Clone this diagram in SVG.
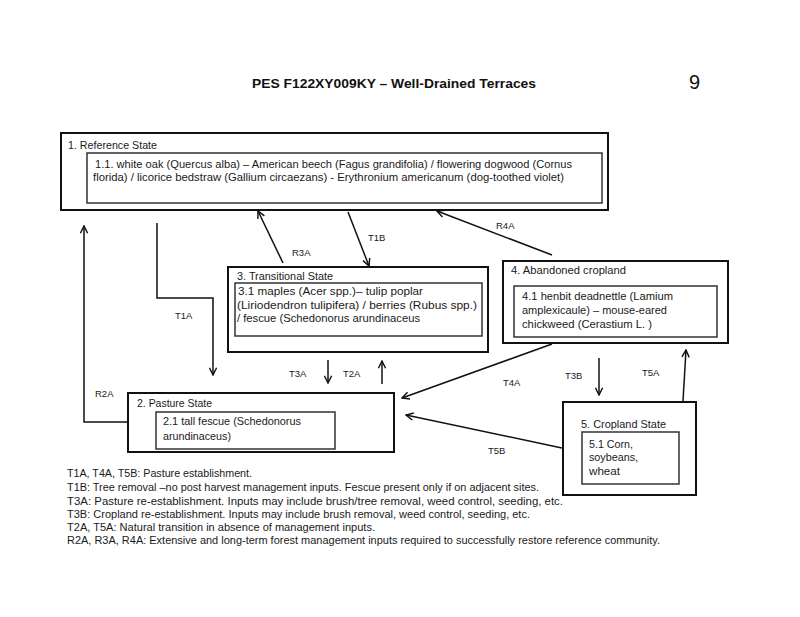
<svg xmlns="http://www.w3.org/2000/svg" width="800" height="617" viewBox="0 0 800 617">
<style>
text{font-family:"Liberation Sans",Arial,sans-serif;fill:#1a1a1a;font-size:10.5px}
.outer{fill:none;stroke:#111;stroke-width:2}
.inner{fill:none;stroke:#333;stroke-width:1.5}
.conn{fill:none;stroke:#111;stroke-width:1.5;marker-end:url(#arr)}
.lbl{font-size:9.5px}
.leg{font-size:10px}
.title{font-weight:bold;font-size:12.5px;fill:#111}
</style>
<defs>
<marker id="arr" viewBox="0 0 10 10" refX="9" refY="5" markerWidth="6" markerHeight="6" orient="auto" markerUnits="strokeWidth">
<path d="M1,1 L9,5 L1,9" fill="none" stroke="#111" stroke-width="1.6"/>
</marker>
</defs>
<rect width="800" height="617" fill="#fff"/>
<text class="title" x="252" y="88" textLength="284" lengthAdjust="spacingAndGlyphs">PES F122XY009KY –  Well-Drained Terraces</text>
<text x="689" y="89" style="font-size:20px;fill:#111">9</text>

<g id="node1">
<rect class="outer" x="61" y="133" width="547" height="77"/>
<rect class="inner" x="87" y="153" width="515" height="50"/>
<text x="68" y="149" textLength="89" lengthAdjust="spacingAndGlyphs">1. Reference State</text>
<text x="95" y="168" textLength="477" lengthAdjust="spacingAndGlyphs">1.1.  white oak (Quercus alba) – American beech (Fagus grandifolia) / flowering dogwood (Cornus</text>
<text x="93" y="181" textLength="471" lengthAdjust="spacingAndGlyphs">florida) /  licorice bedstraw (Gallium circaezans) - Erythronium americanum (dog-toothed violet)</text>
</g>

<g id="node3">
<rect class="outer" x="228" y="267" width="260" height="85"/>
<rect class="inner" x="235" y="283" width="247" height="53"/>
<text x="237" y="280" textLength="96" lengthAdjust="spacingAndGlyphs">3. Transitional State</text>
<text x="238" y="295" textLength="185" lengthAdjust="spacingAndGlyphs">3.1 maples (Acer spp.)– tulip poplar</text>
<text x="237" y="309" textLength="240" lengthAdjust="spacingAndGlyphs">(Liriodendron tulipifera) / berries (Rubus spp.)</text>
<text x="237" y="322" textLength="183" lengthAdjust="spacingAndGlyphs">/ fescue (Schedonorus arundinaceus</text>
</g>

<g id="node4">
<rect class="outer" x="503" y="261" width="225" height="82"/>
<rect class="inner" x="514" y="286" width="203" height="51"/>
<text x="511" y="274" textLength="115" lengthAdjust="spacingAndGlyphs">4. Abandoned cropland</text>
<text x="522" y="300" textLength="151" lengthAdjust="spacingAndGlyphs">4.1 henbit deadnettle (Lamium</text>
<text x="522" y="314" textLength="145" lengthAdjust="spacingAndGlyphs">amplexicaule) – mouse-eared</text>
<text x="522" y="328" textLength="130" lengthAdjust="spacingAndGlyphs">chickweed (Cerastium L. )</text>
</g>

<g id="node2">
<rect class="outer" x="128" y="393" width="266" height="59"/>
<rect class="inner" x="156" y="412" width="179" height="37"/>
<text x="137" y="407" textLength="75" lengthAdjust="spacingAndGlyphs">2. Pasture State</text>
<text x="163" y="425" textLength="138" lengthAdjust="spacingAndGlyphs">2.1 tall fescue (Schedonorus</text>
<text x="163" y="440" textLength="68" lengthAdjust="spacingAndGlyphs">arundinaceus)</text>
</g>

<g id="node5">
<rect class="outer" x="563" y="402" width="133" height="93"/>
<rect class="inner" x="582" y="432" width="97" height="52"/>
<text x="581" y="428" textLength="85" lengthAdjust="spacingAndGlyphs">5. Cropland State</text>
<text x="589" y="448" textLength="44" lengthAdjust="spacingAndGlyphs">5.1 Corn,</text>
<text x="589" y="461" textLength="49" lengthAdjust="spacingAndGlyphs">soybeans,</text>
<text x="589" y="475" textLength="31" lengthAdjust="spacingAndGlyphs">wheat</text>
</g>

<g id="connectors">
<polyline class="conn" points="157,223 157,298 213,298 213,375"/>
<polyline class="conn" points="128,422 84,422 84,226"/>
<line class="conn" x1="283" y1="263" x2="258" y2="211"/>
<line class="conn" x1="348" y1="212" x2="369" y2="266"/>
<line class="conn" x1="552" y1="255" x2="437" y2="211"/>
<line class="conn" x1="328" y1="360" x2="328" y2="383"/>
<line class="conn" x1="382" y1="384" x2="382" y2="361"/>
<line class="conn" x1="552" y1="344" x2="402" y2="398"/>
<line class="conn" x1="599" y1="358" x2="599" y2="395"/>
<line class="conn" x1="683" y1="401" x2="686" y2="350"/>
<line class="conn" x1="562" y1="448" x2="406" y2="415"/>
<text class="lbl" x="175" y="319">T1A</text>
<text class="lbl" x="95" y="397">R2A</text>
<text class="lbl" x="292" y="256">R3A</text>
<text class="lbl" x="368" y="241">T1B</text>
<text class="lbl" x="496" y="229">R4A</text>
<text class="lbl" x="289" y="377">T3A</text>
<text class="lbl" x="343" y="377">T2A</text>
<text class="lbl" x="503" y="386">T4A</text>
<text class="lbl" x="565" y="379">T3B</text>
<text class="lbl" x="642" y="376">T5A</text>
<text class="lbl" x="488" y="454">T5B</text>
</g>

<g id="legend">
<text class="leg" x="67" y="477" textLength="185" lengthAdjust="spacingAndGlyphs">T1A, T4A, T5B: Pasture establishment.</text>
<text class="leg" x="67" y="491" textLength="472" lengthAdjust="spacingAndGlyphs">T1B: Tree removal –no post harvest management inputs. Fescue present only if on adjacent sites.</text>
<text class="leg" x="67" y="505" textLength="496" lengthAdjust="spacingAndGlyphs">T3A: Pasture re-establishment.  Inputs may include brush/tree removal, weed control, seeding, etc.</text>
<text class="leg" x="67" y="518" textLength="463" lengthAdjust="spacingAndGlyphs">T3B: Cropland re-establishment. Inputs may include brush removal, weed control, seeding, etc.</text>
<text class="leg" x="67" y="531" textLength="308" lengthAdjust="spacingAndGlyphs">T2A, T5A: Natural transition in absence of management inputs.</text>
<text class="leg" x="67" y="544" textLength="593" lengthAdjust="spacingAndGlyphs">R2A, R3A, R4A: Extensive and long-term forest management inputs required to successfully restore reference community.</text>
</g>
</svg>
